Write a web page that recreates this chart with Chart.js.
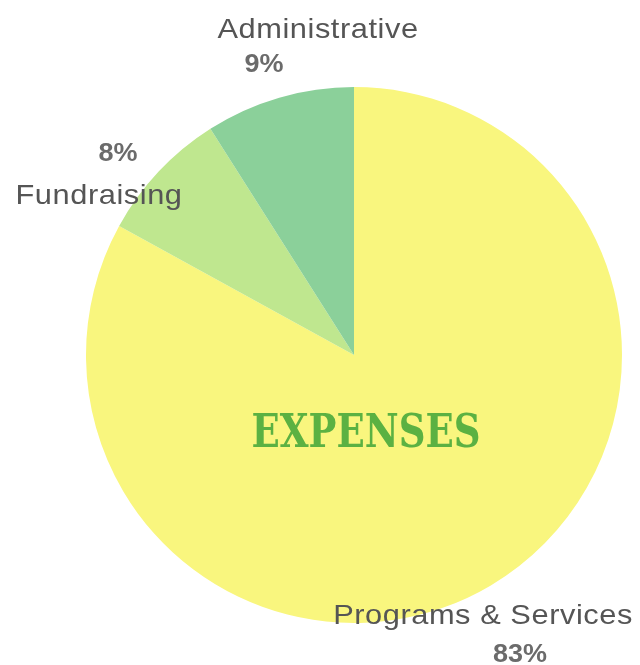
<!DOCTYPE html>
<html>
<head>
<meta charset="utf-8">
<script src="https://cdn.jsdelivr.net/npm/chart.js@4"></script>
<style>
  html, body { margin: 0; padding: 0; background: #fff; }
  #wrap { width: 640px; height: 665px; }
</style>
</head>
<body>
<div id="wrap"><canvas id="expensesChart" width="640" height="665"></canvas></div>
<script>
const categories = ["Programs & Services", "Fundraising", "Administrative"];
const shares = [83, 8, 9];
const sliceColors = ["#F9F67E", "#BFE78F", "#8BD09A"];

// where each name / percent pair sits (centre x, baseline y)
const labelSpots = [
  { name: [483, 624], pct: [520, 662] },
  { name: [99, 204], pct: [118, 161] },
  { name: [318, 38], pct: [264, 72] },
];

// text a little wider than Arial, like the original Helvetica
function wideText(ctx, text, x, y, stretch) {
  ctx.save();
  ctx.translate(x, y);
  ctx.scale(stretch, 1);
  ctx.fillText(text, 0, 0);
  ctx.restore();
}

const sliceLabels = {
  id: "sliceLabels",
  afterDraw(chart) {
    const ctx = chart.ctx;
    ctx.save();
    ctx.textAlign = "center";
    ctx.textBaseline = "alphabetic";
    categories.forEach((name, i) => {
      const s = labelSpots[i];
      ctx.fillStyle = "#555555";
      ctx.font = "28px 'Liberation Sans', Arial, sans-serif";
      ctx.letterSpacing = "0.5px";
      wideText(ctx, name, s.name[0], s.name[1], 1.1);
      ctx.fillStyle = "#6b6b6b";
      ctx.font = "bold 25px 'Liberation Sans', Arial, sans-serif";
      ctx.letterSpacing = "0px";
      wideText(ctx, shares[i] + "%", s.pct[0], s.pct[1], 1.08);
    });
    // centre title
    ctx.letterSpacing = "0px";
    ctx.fillStyle = "#5BB142";
    ctx.font = "bold 46px 'DejaVu Serif Condensed', 'DejaVu Serif', serif";
    ctx.fillText("EXPENSES", 366, 447, 229);
    ctx.restore();
  },
};

new Chart(document.getElementById("expensesChart").getContext("2d"), {
  type: "pie",
  data: {
    labels: categories,
    datasets: [
      {
        data: shares,
        backgroundColor: sliceColors,
        borderWidth: 0,
      },
    ],
  },
  options: {
    responsive: false,
    animation: false,
    layout: { padding: { left: 86, right: 18, top: 87, bottom: 42 } },
    plugins: {
      legend: { display: false },
      tooltip: { enabled: false },
    },
  },
  plugins: [sliceLabels],
});
</script>
</body>
</html>
